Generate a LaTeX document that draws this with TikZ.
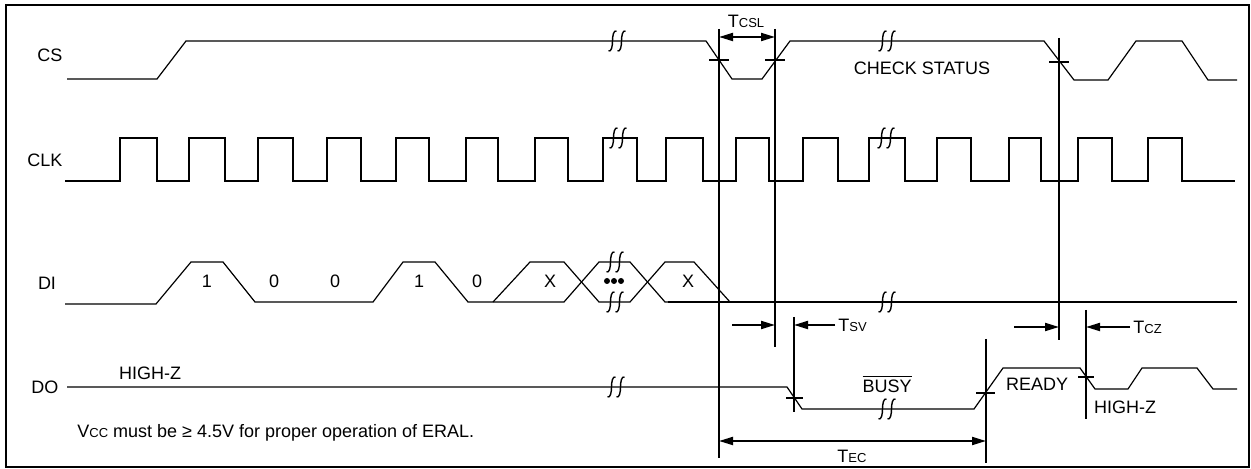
\documentclass[tikz,border=0pt]{standalone}
\usepackage{fontspec}
\setmainfont{Liberation Sans}
\usetikzlibrary{arrows.meta}
\tikzstyle{every node}=[inner sep=0pt,font=\fontsize{9}{10}\selectfont]
\tikzstyle{sig}=[line width=0.6pt]
\tikzstyle{clk}=[line width=1pt]
\tikzstyle{guide}=[line width=1pt]
\tikzstyle{dimarrow}=[line width=1pt,-{Triangle[length=7pt,width=4pt]}]
\tikzstyle{dimboth}=[line width=1pt,{Triangle[length=7pt,width=4pt]}-{Triangle[length=7pt,width=4pt]}]
\newcommand{\tsub}[1]{{\fontsize{6.5}{7}\selectfont #1}}
\newcommand{\breakmark}[2]{\foreach \dx in {-4.5,4.5} \draw[line width=0.7pt] ({#1+\dx-4},{#2+10}) .. controls ({#1+\dx-1},{#2+11}) and ({#1+\dx},{#2+5}) .. ({#1+\dx},#2) .. controls ({#1+\dx},{#2-5}) and ({#1+\dx+1},{#2-11}) .. ({#1+\dx+4},{#2-10});}

\begin{document}
\begin{tikzpicture}[x=0.5pt,y=-0.5pt]
\useasboundingbox (0,0) rectangle (1251,469);
\draw[line width=1pt] (6,5) rectangle (1249,467);
\node (cs) at (50,55) {CS};
\node (clk) at (45,160) {CLK};
\node (di) at (47,283) {DI};
\node (do) at (45,387) {DO};
\draw[sig] (67,79) -- (157,79) -- (186,41) -- (706,41) -- (732,79) -- (762,79) -- (790,41) -- (1044,41) -- (1074,80) -- (1108,80) -- (1136,41) -- (1182,41) -- (1208,80) -- (1237,80);
\breakmark{617}{41} \breakmark{887}{41}
\node (check) at (922,68) {CHECK STATUS};
\draw[clk] (65,181) \foreach \r/\f in {120/157,189/225,258/293,327/361,396/429,466/498,535/568,603/637,666/703,736/769,803/838,869/905,937/971,1009/1041,1078/1112,1148/1182} { -- (\r,181) -- (\r,138) -- (\f,138) -- (\f,181)} -- (1235,181);
\breakmark{618}{138} \breakmark{886}{138}
\draw[sig] (65,304) -- (156,304) -- (191,262) -- (223,262) -- (255,302) -- (373,302) -- (403,262) -- (435,262) -- (468,302) -- (564,302) -- (599,262) -- (630,262) -- (665,302) -- (668,302);
\draw[sig] (493,302) -- (530,262) -- (564,262) -- (599,302) -- (630,302) -- (665,262) -- (694,262) -- (730,302);
\draw[clk] (668,302) -- (1237,302);
\breakmark{615}{262} \breakmark{615}{302} \breakmark{887}{302}
\foreach \x in {607,614,621} \fill (\x,281) circle [radius=3];
\node (b1) at (207,281) {1};
\node (b2) at (274,281) {0};
\node (b3) at (335,281) {0};
\node (b4) at (419,281) {1};
\node (b5) at (477,281) {0};
\node (b6) at (550,281) {X};
\node (b7) at (688,281) {X};
\draw[sig] (67,387) -- (787,387) -- (802,409) -- (974,409) -- (1003,368) -- (1080,368) -- (1095,389) -- (1128,389) -- (1142,368) -- (1197,368) -- (1213,389) -- (1237,389);
\breakmark{616}{387} \breakmark{887}{409}
\node (hiz) at (150,373) {HIGH-Z};
\node (busy) at (887,384) {$\overline{\hbox{BUSY}}$};
\node (ready) at (1037,384) {READY};
\node (hiz2) at (1125,407) {HIGH-Z};
\node[anchor=west] (note) at (77,433) {V\tsub{CC} must be ≥ 4.5V for proper operation of ERAL.};
\coordinate (g1t) at (719,29); \coordinate (g1b) at (719,458);
\coordinate (g2t) at (775,29); \coordinate (g2b) at (775,347);
\coordinate (g3t) at (1059,38); \coordinate (g3b) at (1059,340);
\coordinate (g4t) at (794,317); \coordinate (g4b) at (794,412);
\coordinate (g5t) at (986,339); \coordinate (g5b) at (986,463);
\coordinate (g6t) at (1086,310); \coordinate (g6b) at (1086,419);
\foreach \g in {g1,g2,g3,g4,g5,g6} \draw[guide] (\g t) -- (\g b);
\draw[guide] (709,60) -- (729,60);
\draw[guide] (765,60) -- (785,60);
\draw[guide] (1049,62) -- (1069,62);
\draw[guide] (786,398) -- (803,398);
\draw[guide] (976,393) -- (995,393);
\draw[guide] (1078,377) -- (1094,377);
\coordinate (tcslL) at (719,37); \coordinate (tcslR) at (775,37);
\draw[dimboth] (tcslL) -- (tcslR);
\node (tcsl) at (746,21) {T\tsub{CSL}};
\coordinate (tsvA) at (732,325); \coordinate (tsvB) at (835,325);
\draw[dimarrow] (tsvA) -- (g2t |- tsvA);
\draw[dimarrow] (tsvB) -- (g4t |- tsvB);
\node[anchor=west] (tsv) at (838,325) {T\tsub{SV}};
\coordinate (tczA) at (1014,327); \coordinate (tczB) at (1130,327);
\draw[dimarrow] (tczA) -- (g3t |- tczA);
\draw[dimarrow] (tczB) -- (g6t |- tczB);
\node[anchor=west] (tcz) at (1133,327) {T\tsub{CZ}};
\coordinate (tecL) at (719,441); \coordinate (tecR) at (986,441);
\draw[dimboth] (tecL) -- (tecR);
\node (tec) at (852,456) {T\tsub{EC}};
\end{tikzpicture}
\end{document}
